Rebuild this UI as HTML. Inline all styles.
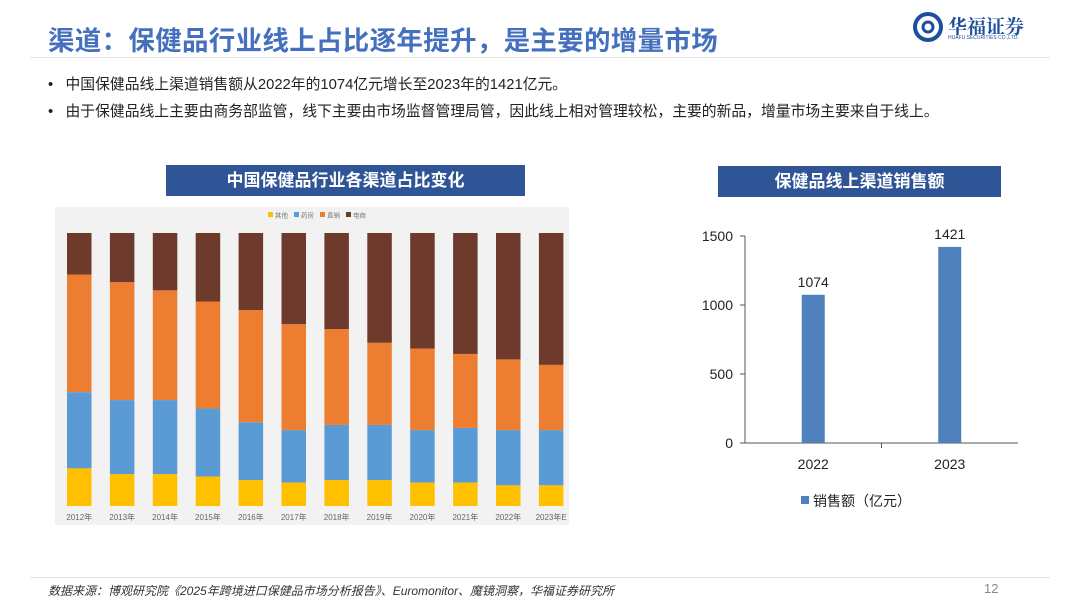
<!DOCTYPE html>
<html><head><meta charset="utf-8">
<style>
body{margin:0;width:1080px;height:607px;background:#fff;font-family:"Liberation Sans","Noto Sans CJK SC",sans-serif;position:relative;overflow:hidden}
.abs{position:absolute}
</style></head><body>
<div class="abs" style="left:48px;top:19px;font-size:26.5px;font-weight:bold;color:#4470bd;letter-spacing:0.3px;white-space:nowrap">渠道：保健品行业线上占比逐年提升，是主要的增量市场</div>
<div class="abs" style="left:912px;top:12px;width:130px;height:32px">
<svg width="32" height="30" style="position:absolute;left:0;top:0"><circle cx="16" cy="15" r="13" fill="none" stroke="#1d4f9c" stroke-width="4"/><circle cx="16" cy="15" r="5" fill="none" stroke="#1d4f9c" stroke-width="3"/></svg>
<div style="position:absolute;left:36px;top:0;font-size:19px;font-weight:bold;color:#1d4f9c;font-family:'Noto Serif CJK SC',serif">华福证券</div>
<div style="position:absolute;left:36px;top:23px;font-size:5px;color:#1d4f9c;white-space:nowrap">HUAFU SECURITIES CO.,LTD.</div>
</div>
<div class="abs" style="left:30px;top:57px;width:1020px;height:1px;background:#e6e6e6"></div>
<div class="abs" style="left:48px;top:73px;font-size:14.8px;color:#222;white-space:nowrap">•&nbsp;&nbsp;&nbsp;中国保健品线上渠道销售额从2022年的1074亿元增长至2023年的1421亿元。</div>
<div class="abs" style="left:48px;top:100px;font-size:14.8px;color:#222;white-space:nowrap">•&nbsp;&nbsp;&nbsp;由于保健品线上主要由商务部监管，线下主要由市场监督管理局管，因此线上相对管理较松，主要的新品，增量市场主要来自于线上。</div>

<div class="abs" style="left:166px;top:165px;width:359px;height:31px;background:#2f5597;color:#fff;font-size:17px;font-weight:bold;text-align:center;line-height:31px">中国保健品行业各渠道占比变化</div>
<div class="abs" style="left:718px;top:166px;width:283px;height:31px;background:#2f5597;color:#fff;font-size:17px;font-weight:bold;text-align:center;line-height:31px">保健品线上渠道销售额</div>

<svg class="abs" id="left" style="left:0;top:0" width="1080" height="607"></svg>

<div class="abs" style="left:30px;top:577px;width:1020px;height:1px;background:#e0e0e0"></div>
<div class="abs" style="left:48px;top:582px;font-size:12px;font-style:italic;color:#333">数据来源：博观研究院《2025年跨境进口保健品市场分析报告》、Euromonitor、魔镜洞察，华福证券研究所</div>
<div class="abs" style="left:984px;top:581px;font-size:13px;color:#888">12</div>

<script>
const years=["2012年","2013年","2014年","2015年","2016年","2017年","2018年","2019年","2020年","2021年","2022年","2023年E"];
const other=[13.8,11.7,11.7,10.8,9.5,8.6,9.5,9.5,8.6,8.6,7.6,7.6];
const pharmacy=[27.9,27.1,27.1,24.9,21.2,19.2,20.2,20.2,19.2,20.0,20.2,20.2];
const directSales=[43.1,43.2,40.2,39.2,41.1,38.8,35.1,30.1,29.9,27.1,25.9,23.9];
const ecommerce=[15.2,18.0,21.0,25.1,28.2,33.4,35.2,40.2,42.3,44.3,46.3,48.3];
const legendNames=["其他","药房","直销","电商"];
const salesYears=["2022","2023"];
const salesValues=[1074,1421];
const salesTicks=[0,500,1000,1500];

const NS="http://www.w3.org/2000/svg";
const svg=document.getElementById('left');
function mk(t,a,p){const e=document.createElementNS(NS,t);for(const k in a)e.setAttribute(k,a[k]);(p||svg).appendChild(e);return e;}

const bg=mk('rect',{x:55,y:207,width:514,height:318,fill:'#f2f2f2'});


const colors=["#ffc000","#5b9bd5","#ed7d31","#6e3a2c"];
const series=[other,pharmacy,directSales,ecommerce];
const y0=506,ph=273,x0=67,step=42.9,bw=24.5;
const yS=v=>v/100*ph;
years.forEach((yr,i)=>{
  let tot=0;series.forEach(s=>tot+=s[i]);
  let cum=0;
  series.forEach((s,k)=>{
    const h=yS(s[i]/tot*100);
    const r=mk('rect',{x:x0+i*step,y:y0-yS(cum/tot*100)-h,width:bw,height:h,fill:colors[k]});
    
    
    cum+=s[i];
  });
  const t=mk('text',{x:x0+i*step+bw/2,y:520,'font-size':8,fill:'#666','text-anchor':'middle'});
  t.textContent=yr;
  
  
});
legendNames.forEach((n,k)=>{
  const lx=268+k*26;
  const r=mk('rect',{x:lx,y:212,width:5,height:5,fill:colors[k]});
  
  
  const t=mk('text',{x:lx+7,y:217.5,'font-size':6.5,fill:'#777'});
  t.textContent=n;
  
  
});

const ax0=745,ax1=1018,by0=443,bTop=236,vmax=1500;
const ry=v=>by0-(v/vmax)*(by0-bTop);
const cw=(ax1-ax0)/salesYears.length;
const yl=mk('line',{x1:ax0,y1:bTop,x2:ax0,y2:by0,stroke:'#555','stroke-width':1});


const xl=mk('line',{x1:ax0,y1:by0,x2:ax1,y2:by0,stroke:'#555','stroke-width':1});


salesTicks.forEach(v=>{
  const l=mk('line',{x1:ax0-5,y1:ry(v),x2:ax0,y2:ry(v),stroke:'#555'});
  
  
  const t=mk('text',{x:ax0-12,y:ry(v)+5,'font-size':14,fill:'#222','text-anchor':'end'});
  t.textContent=v;
  
  
});
salesYears.forEach((yr,i)=>{
  const cx=ax0+cw*(i+0.5);
  const r=mk('rect',{x:cx-11.5,y:ry(salesValues[i]),width:23,height:by0-ry(salesValues[i]),fill:'#4f81bd'});
  
  
  const v=mk('text',{x:cx,y:ry(salesValues[i])-8,'font-size':14,fill:'#222','text-anchor':'middle'});
  v.textContent=salesValues[i];
  
  
  const t=mk('text',{x:cx,y:469,'font-size':14,fill:'#222','text-anchor':'middle'});
  t.textContent=yr;
  
  
  if(i>0){const tk=mk('line',{x1:ax0+cw*i,y1:by0,x2:ax0+cw*i,y2:by0+5,stroke:'#555'});
  
  }
});
const ls=mk('rect',{x:801,y:496,width:8,height:8,fill:'#4f81bd'});


const lt=mk('text',{x:813,y:506,'font-size':14,fill:'#222'});
lt.textContent='销售额（亿元）';


</script>
</body></html>
